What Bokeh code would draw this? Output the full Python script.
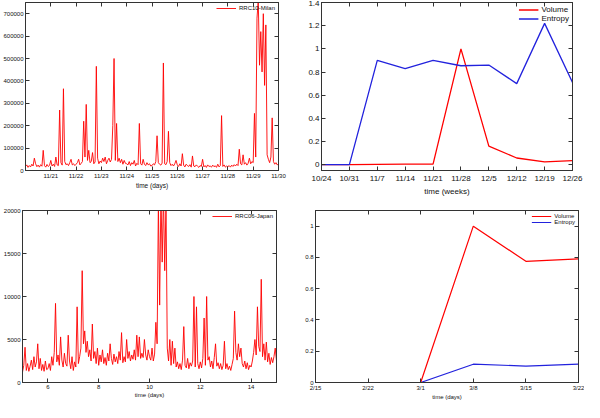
from bokeh.plotting import figure
from bokeh.layouts import column, row
from bokeh.models import FixedTicker, LinearAxis, Range1d, Legend, LegendItem
from bokeh.embed import file_html
from bokeh.resources import INLINE

# ---------------- data ----------------
# RRC10-Milan: volume sampled every 0.05 day from 11/20 (values in thousands)
milan_start = 20.0
milan_step = 0.05
milan_k = [
    18, 25, 14, 22, 16, 28, 20, 55, 30, 17, 24, 15, 26, 19, 90, 22, 15, 27, 18, 23,
    45, 20, 28, 18, 60, 25, 22, 270, 35, 24, 365, 40, 26, 30, 22, 35, 50, 25, 30, 22,
    28, 35, 50, 25, 32, 40, 220, 60, 295, 45, 90, 35, 40, 80, 30, 38, 465, 55, 30, 42,
    35, 55, 40, 60, 30, 45, 55, 38, 50, 200, 500, 45, 210, 40, 55, 35, 50, 28, 45, 32,
    30, 25, 40, 22, 35, 28, 45, 20, 32, 26, 210, 30, 24, 50, 28, 22, 35, 25, 30, 20,
    22, 30, 25, 40, 155, 35, 28, 24, 33, 480, 30, 26, 40, 175, 35, 22, 28, 20, 30, 45,
    25, 18, 30, 20, 75, 24, 16, 28, 22, 18, 26, 15, 65, 20, 17, 25, 19, 14, 22, 18,
    50, 16, 22, 14, 25, 18, 20, 15, 24, 17, 21, 14, 28, 16, 22, 245, 18, 25, 15, 20,
    17, 22, 15, 24, 18, 26, 20, 28, 22, 95, 30, 25, 70, 28, 35, 24, 32, 55, 30, 40,
    35, 255, 60, 680, 760, 470, 620, 440, 700, 380, 650, 70, 50, 35, 60, 235, 40, 28, 35, 25,
    30,
]
milan_xticks = [21, 22, 23, 24, 25, 26, 27, 28, 29, 30]
milan_xlabels = ["11/21", "11/22", "11/23", "11/24", "11/25", "11/26", "11/27", "11/28", "11/29", "11/30"]
milan_yticks = [0, 100000, 200000, 300000, 400000, 500000, 600000, 700000]
milan_ylabels = ["0", "100000", "200000", "300000", "400000", "500000", "600000", "700000"]

# weekly normalised volume / entropy (top right)
weeks = ["10/24", "10/31", "11/7", "11/14", "11/21", "11/28", "12/5", "12/12", "12/19", "12/26"]
volume_w = [0, 0, 0.003, 0.005, 0.005, 1.0, 0.16, 0.058, 0.025, 0.036]
entropy_w = [0, 0, 0.90, 0.83, 0.90, 0.854, 0.86, 0.70, 1.22, 0.71]
tr_yticks = [0, 0.2, 0.4, 0.6, 0.8, 1.0, 1.2, 1.4]
tr_ylabels = ["0", "0.2", "0.4", "0.6", "0.8", "1", "1.2", "1.4"]

# RRC06-Japan: volume sampled every 0.05 day from day 5 (values in thousands)
japan_start = 5.0
japan_step = 0.05
japan_k = [
    1.2, 2.0, 4.1, 1.4, 2.2, 1.3, 1.9, 2.6, 1.5, 3.0, 1.8, 2.4, 4.5, 1.6, 2.8, 1.4, 2.1, 1.3, 2.5, 1.5,
    1.6, 2.2, 1.4, 3.0, 2.0, 3.5, 9.2, 2.4, 3.2, 2.0, 5.3, 2.6, 1.8, 3.4, 2.2, 1.9, 5.5, 2.5, 1.6, 3.0,
    1.4, 2.4, 1.8, 8.8, 2.2, 3.0, 4.0, 13.0, 4.5, 6.0, 3.5, 4.8, 3.0, 3.8, 2.5, 6.8, 2.8, 3.6, 2.2, 4.0,
    2.0, 3.2, 2.4, 3.8, 2.2, 2.9, 2.0, 3.4, 2.5, 4.5, 2.8, 2.1, 3.3, 2.4, 3.0, 2.2, 3.6, 2.6, 5.8, 2.3,
    3.0, 2.4, 5.0, 2.8, 3.6, 2.5, 3.2, 2.7, 3.8, 2.6, 5.5, 3.0, 5.3, 2.8, 3.4, 2.9, 5.0, 3.2, 2.6, 3.8,
    3.0, 2.6, 4.0, 2.5, 3.3, 7.0, 4.5, 21.0, 9.0, 22.0, 14.0, 22.0, 13.0, 21.0, 4.0, 2.5, 5.0, 2.0, 4.8, 2.2,
    4.0, 1.8, 2.4, 1.6, 2.2, 1.5, 2.6, 6.5, 2.0, 1.7, 2.8, 1.6, 2.3, 1.9, 2.5, 10.0, 1.8, 8.8, 2.2, 1.6,
    2.4, 1.7, 2.8, 7.5, 2.0, 10.0, 2.6, 3.0, 1.8, 2.5, 1.6, 2.9, 4.5, 1.9, 2.3, 1.6, 2.2, 1.5, 2.0, 4.8,
    1.6, 2.2, 1.5, 1.9, 1.4, 2.1, 2.8, 8.3, 3.5, 2.6, 4.5, 3.0, 4.0, 2.2, 1.8, 2.5, 1.6, 2.3, 1.5, 2.0,
    1.8, 2.5, 3.5, 5.0, 3.2, 8.8, 4.2, 3.6, 12.0, 3.0, 4.5, 2.6, 4.7, 2.4, 3.4, 2.1, 2.9, 2.3, 3.0, 4.0,
    2.5,
]
japan_xticks = [6, 8, 10, 12, 14]
japan_xlabels = ["6", "8", "10", "12", "14"]
japan_yticks = [0, 5000, 10000, 15000, 20000]
japan_ylabels = ["0", "5000", "10000", "15000", "20000"]

# weekly normalised volume / entropy (bottom right)
weeks2 = ["2/15", "2/22", "3/1", "3/8", "3/15", "3/22"]
volume_w2 = [0, 0, 0, 1.0, 0.775, 0.79]
entropy_w2 = [0, 0, 0, 0.117, 0.105, 0.118]
br_yticks = [0, 0.2, 0.4, 0.6, 0.8, 1.0]
br_ylabels = ["0", "0.2", "0.4", "0.6", "0.8", "1"]

# ---------------- style ----------------
FONT = "Liberation Sans"
RED = "#ff0000"
BLUE = "#2222dd"
FRAME = "#333333"
TEXT = "#111111"


def make(width, height, xr, yr, mb):
    p = figure(width=width, height=height, x_range=xr, y_range=yr,
               output_backend="svg", toolbar_location=None,
               min_border_left=mb[0], min_border_right=mb[1],
               min_border_top=mb[2], min_border_bottom=mb[3])
    p.grid.visible = False
    p.outline_line_color = FRAME
    p.outline_line_width = 1
    p.background_fill_color = "white"
    p.border_fill_color = "white"
    return p


def axes(p, xticks, xlabels, yticks, ylabels, fpx, xtitle, tpx, lstand, tstand):
    p.xaxis.ticker = FixedTicker(ticks=xticks)
    p.xaxis.major_label_overrides = dict(zip(xticks, xlabels))
    p.yaxis.ticker = FixedTicker(ticks=yticks)
    p.yaxis.major_label_overrides = dict(zip(yticks, ylabels))
    for ax in (p.xaxis, p.yaxis):
        ax.major_tick_in = 4
        ax.major_tick_out = 0
        ax.minor_tick_line_color = None
        ax.axis_line_color = FRAME
        ax.major_tick_line_color = FRAME
        ax.major_label_text_font = FONT
        ax.major_label_text_font_size = fpx
        ax.major_label_text_color = TEXT
    p.yaxis.major_label_standoff = 2
    p.xaxis.major_label_standoff = lstand
    p.xaxis.axis_label = xtitle
    p.xaxis.axis_label_text_font = FONT
    p.xaxis.axis_label_text_font_size = tpx
    p.xaxis.axis_label_text_font_style = "normal"
    p.xaxis.axis_label_text_color = TEXT
    p.xaxis.axis_label_standoff = tstand
    for side, ticks in (("above", xticks), ("right", yticks)):
        m = LinearAxis(ticker=FixedTicker(ticks=ticks),
                       major_label_overrides={t: "" for t in ticks},
                       major_tick_in=4, major_tick_out=0,
                       minor_tick_line_color=None,
                       axis_line_color=FRAME, major_tick_line_color=FRAME,
                       major_label_standoff=0,
                       major_label_text_font_size="1px")
        p.add_layout(m, side)


def legend(p, items, fpx, gh):
    leg = Legend(items=[LegendItem(label=l, renderers=[r]) for l, r in items],
                 location="top_right",
                 label_text_font=FONT, label_text_font_size=fpx,
                 label_text_color=TEXT,
                 glyph_width=20, glyph_height=gh, label_height=gh,
                 spacing=0, padding=1, margin=3, label_standoff=3,
                 border_line_color=None, background_fill_alpha=0)
    p.add_layout(leg)


# ---- top left: RRC10-Milan ----
milan_x = [milan_start + milan_step * i for i in range(len(milan_k))]
milan_y = [v * 1000 for v in milan_k]
tl = make(297, 204, Range1d(20, 30), Range1d(0, 750000), (22, 19, 1, 26))
r = tl.line(milan_x, milan_y, line_color=RED, line_width=0.9)
axes(tl, milan_xticks, milan_xlabels, milan_yticks, milan_ylabels, "6px", "time (days)", "6.5px", 2, 0)
legend(tl, [("RRC10-Milan", r)], "6px", 6)

# ---- top right: weekly volume / entropy ----
wx = list(range(len(weeks)))
tr = make(287, 204, Range1d(0, len(weeks) - 1), Range1d(-0.05, 1.4), (24, 12, 2, 34))
rv = tr.line(wx, volume_w, line_color=RED, line_width=1.3)
re = tr.line(wx, entropy_w, line_color=BLUE, line_width=1.3)
axes(tr, wx, weeks, tr_yticks, tr_ylabels, "8px", "time (weeks)", "8px", 3, 1)
legend(tr, [("Volume", rv), ("Entropy", re)], "8px", 7)

# ---- bottom left: RRC06-Japan ----
japan_x = [japan_start + japan_step * i for i in range(len(japan_k))]
japan_y = [v * 1000 for v in japan_k]
bl = make(297, 198, Range1d(5, 15), Range1d(0, 20000), (22, 21, 6, 18))
r2 = bl.line(japan_x, japan_y, line_color=RED, line_width=0.9)
axes(bl, japan_xticks, japan_xlabels, japan_yticks, japan_ylabels, "6px", "time (days)", "6px", 2, 0)
legend(bl, [("RRC06-Japan", r2)], "6px", 6)

# ---- bottom right: weekly volume / entropy ----
wx2 = list(range(len(weeks2)))
br = make(287, 198, Range1d(0, len(weeks2) - 1), Range1d(0, 1.1), (18, 6, 6, 18))
re2 = br.line(wx2, entropy_w2, line_color=BLUE, line_width=1.2)
rv2 = br.line(wx2, volume_w2, line_color=RED, line_width=1.2)
axes(br, wx2, weeks2, br_yticks, br_ylabels, "6px", "time (days)", "6px", 2, 0)
legend(br, [("Volume", rv2), ("Entropy", re2)], "6px", 6)

layout = column(row(tl, tr, spacing=0), row(bl, br, spacing=0), spacing=0)

open("out.html", "w").write(file_html(layout, INLINE))
